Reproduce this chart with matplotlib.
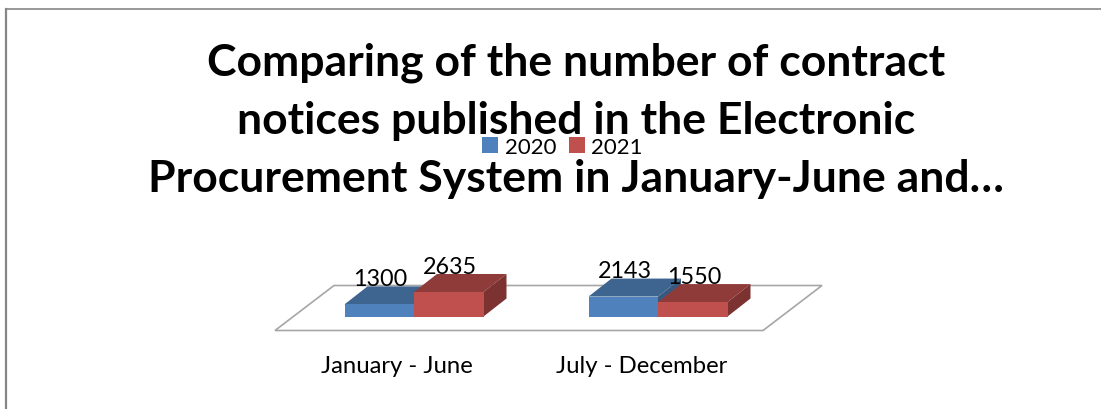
import matplotlib
matplotlib.use("Agg")
import matplotlib.pyplot as plt
from matplotlib.lines import Line2D
from matplotlib.patches import Patch, Polygon

categories = ["January - June", "July - December"]
years = ["2020", "2021"]
values_2020 = [1300, 2143]
values_2021 = [2635, 1550]
title = ("Comparing of the number of contract\n"
         "notices published in the Electronic\n"
         "Procurement System in January-June and\u2026")

W, H = 1101, 410
BASE_Y = 317.5      # pixel row of value 0
CENTER_X = 414.0    # pixel column of the first group
PX_PER_CAT = 244.0
UNITS_PER_PX = 107.5

bar_w = 69.5 / PX_PER_CAT
depth_x = 23 / PX_PER_CAT
depth_y = 18 * UNITS_PER_PX

plt.rcParams["font.family"] = ["Lato", "DejaVu Sans"]

fig = plt.figure(figsize=(W / 100, H / 100), dpi=100, facecolor="white")
ax = fig.add_axes([0, 0, 1, 1])
ax.set_xlim(-CENTER_X / PX_PER_CAT, (W - CENTER_X) / PX_PER_CAT)
ax.set_ylim(-(H - BASE_Y) * UNITS_PER_PX, BASE_Y * UNITS_PER_PX)
ax.axis("off")

# floor of the 3d box
floor_l = -139 / PX_PER_CAT
floor_r = 349 / PX_PER_CAT
floor_front = -14 * UNITS_PER_PX
floor_dx = 59 / PX_PER_CAT
floor_dy = 45 * UNITS_PER_PX
ax.add_patch(Polygon([(floor_l, floor_front), (floor_l + floor_dx, floor_front + floor_dy),
                      (floor_r + floor_dx, floor_front + floor_dy), (floor_r, floor_front)],
                     closed=True, fc="white", ec="#a6a6a6", lw=1.2, zorder=1))


def box(x0, v, front, top, side, z):
    x1 = x0 + bar_w
    ax.add_patch(Polygon([(x0, v), (x0 + depth_x, v + depth_y),
                          (x1 + depth_x, v + depth_y), (x1, v)], fc=top, ec="none", zorder=z))
    ax.add_patch(Polygon([(x1, 0), (x1 + depth_x, depth_y),
                          (x1 + depth_x, v + depth_y), (x1, v)], fc=side, ec="none", zorder=z))
    ax.add_patch(Polygon([(x0, 0), (x1, 0), (x1, v), (x0, v)], fc=front, ec="none", zorder=z))


for i in range(len(categories)):
    box(i - bar_w, values_2020[i], "#4f81bd", "#3e6490", "#38597f", 2)
    box(i, values_2021[i], "#c0504d", "#8f3b39", "#7c3230", 3)

for i in range(len(categories)):
    for x, v in ((i - bar_w / 2, values_2020[i]), (i + bar_w / 2, values_2021[i])):
        ax.annotate(str(v), (x, v), xytext=(1, 18.5), textcoords="offset points",
                    ha="center", va="center", fontsize=16.8, color="black", zorder=5)
    ax.annotate(categories[i], (i - bar_w / 2, 0), xytext=(13, -35), textcoords="offset points",
                ha="center", va="center", fontsize=17.2, color="black", zorder=5)

fig.text(576 / W, 1 - 121 / H, title, ha="center", va="center", fontsize=32,
         fontweight="bold", linespacing=1.55, color="black")

handles = [Patch(fc="#4f81bd"), Patch(fc="#c0504d")]
fig.legend(handles, years, ncols=2, loc="center", bbox_to_anchor=(562.5 / W, 1 - 148 / H),
           frameon=False, fontsize=16, handlelength=0.72, handleheight=0.72,
           handletextpad=0.3, columnspacing=0.57, borderpad=0, borderaxespad=0)

# chart area border, only top and left fall inside the frame
fig.add_artist(Line2D([6 / W, 6 / W], [0, 1 - 9.5 / H], color="#868686", lw=1.6))
fig.add_artist(Line2D([6 / W, 1], [1 - 9.5 / H, 1 - 9.5 / H], color="#868686", lw=1.2))

fig.savefig("out.png", dpi=100, facecolor="white")
